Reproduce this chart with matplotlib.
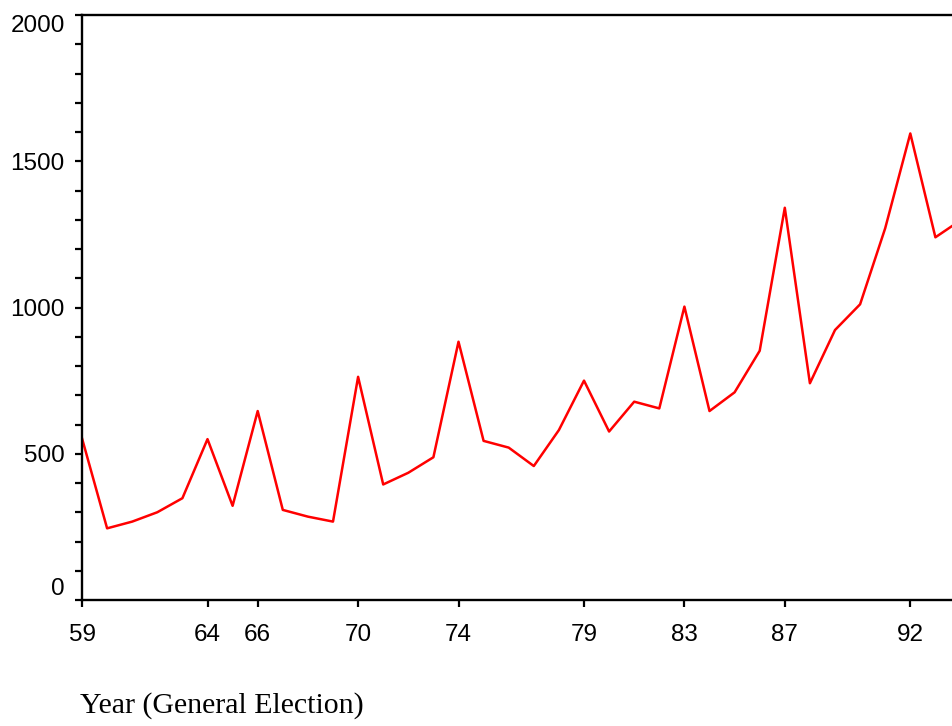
import matplotlib
matplotlib.use("Agg")
import matplotlib.pyplot as plt
from matplotlib.ticker import MultipleLocator

years = list(range(59, 95))
values = [553, 245, 268, 300, 348, 550, 322, 646, 308, 285, 268, 763,
          395, 435, 488, 883, 544, 521, 458, 581, 750, 576, 678, 655,
          1003, 646, 710, 852, 1341, 741, 923, 1011, 1271, 1595, 1240, 1298]
xticks = [59, 64, 66, 70, 74, 79, 83, 87, 92]
yticks = [0, 500, 1000, 1500, 2000]
xlabel = "Year (General Election)"

fig = plt.figure(figsize=(9.53, 7.26), dpi=100)
ax = fig.add_axes([82/953, 1-600/726, 1-82/953, (600-15)/726])
ax.plot(years, values, color="#ff0000", linewidth=1.8, clip_on=True)
ax.set_xlim(59, 59 + 871/25.1)
ax.set_ylim(0, 2000)

for s in ["left", "bottom", "top"]:
    ax.spines[s].set_linewidth(1.7)
ax.spines["right"].set_visible(False)

ax.set_xticks(xticks)
ax.set_xticklabels([str(t) for t in xticks])
ax.set_yticks(yticks)
ax.set_yticklabels([str(t) for t in yticks])
ax.yaxis.set_minor_locator(MultipleLocator(100))
ax.tick_params(axis="both", which="both", direction="out", length=5, width=1.6,
               labelsize=17.5, colors="black")
ax.tick_params(axis="x", pad=12)
ax.tick_params(axis="y", pad=7.5)
ax.tick_params(axis="x", which="minor", bottom=False)
ax.tick_params(top=False, right=False)
for lab in ax.get_xticklabels() + ax.get_yticklabels():
    lab.set_fontfamily("Liberation Sans")
ylabs = ax.get_yticklabels()
ylabs[0].set_va("bottom")
ylabs[-1].set_va("top")

fig.text(80/953, 1-706/726, xlabel, family="Liberation Serif", fontsize=21.5,
         ha="left", va="center")

fig.savefig("out.png", dpi=100)
